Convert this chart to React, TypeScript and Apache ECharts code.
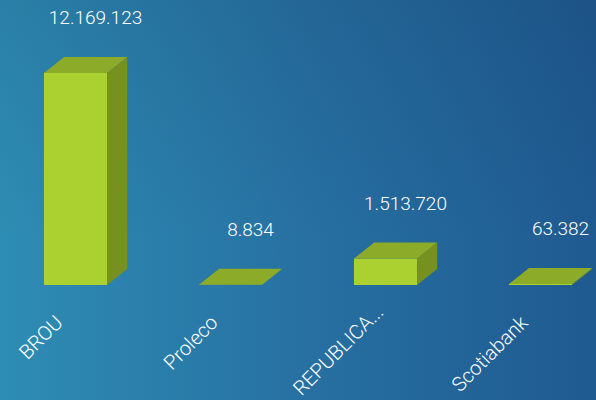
import React, { useEffect, useRef } from "react";
import * as echarts from "echarts";

const categories = ["BROU", "Proleco", "REPUBLICA...", "Scotiabank"];
const values = [12169123, 8834, 1513720, 63382];

const FRONT = "#aad12f";
const TOP = "#8cab28";
const SIDE = "#76911f";
const FONT = "Roboto, 'Noto Sans', sans-serif";

function fmt(v: number): string {
  return String(Math.round(v)).replace(/\B(?=(\d{3})+(?!\d))/g, ".");
}

export default function App() {
  const ref = useRef<HTMLDivElement>(null);
  useEffect(() => {
    if (!ref.current) return;
    const chart = echarts.init(ref.current, undefined, { renderer: "svg" });
    chart.setOption({
      animation: false,
      backgroundColor: new echarts.graphic.LinearGradient(0, 0, 1, 0, [
        { offset: 0, color: "#2e8db4" },
        { offset: 0.5, color: "#2771a2" },
        { offset: 1, color: "#1f5a90" },
      ]),
      graphic: [
        {
          type: "rect",
          z: -10,
          shape: { x: 0, y: 0, width: 596, height: 400 },
          style: {
            fill: new echarts.graphic.LinearGradient(0, 0, 0, 1, [
              { offset: 0, color: "rgba(10,30,70,0.12)" },
              { offset: 0.6, color: "rgba(10,30,70,0)" },
              { offset: 1, color: "rgba(10,30,70,0)" },
            ]),
          },
        },
      ],
      grid: {
        left: -18.5,
        right: -5.5,
        top: 41,
        bottom: 115,
        containLabel: false,
        outerBoundsMode: "none",
      },
      xAxis: {
        type: "category",
        data: categories.map((c) =>
          c.length > 10 ? { value: c, textStyle: { padding: [0, -15, 0, 0] } } : c
        ),
        axisLine: { show: false },
        axisTick: { show: false },
        axisLabel: {
          rotate: 45,
          margin: 34,
          color: "#ffffff",
          fontSize: 20,
          fontWeight: 300,
          fontFamily: FONT,
          interval: 0,
        },
      },
      yAxis: {
        type: "value",
        min: 0,
        max: 14000000,
        show: false,
        splitLine: { show: false },
      },
      series: [
        {
          type: "custom",
          data: values.map((v, i) => [i, v]),
          encode: { x: 0, y: 1 },
          renderItem: (params: any, api: any) => {
            const i = api.value(0);
            const v = api.value(1);
            const base = api.coord([i, 0]);
            const top = api.coord([i, v]);
            const bw = api.size([1, 0])[0];
            const x0 = base[0] - bw * 0.097;
            const x1 = x0 + bw * 0.407;
            const dx = bw * 0.13;
            const dy = 16;
            const yb = base[1];
            const yt = top[1];
            return {
              type: "group",
              children: [
                {
                  type: "polygon",
                  shape: { points: [[x0, yt], [x1, yt], [x1, yb], [x0, yb]] },
                  style: { fill: FRONT },
                },
                {
                  type: "polygon",
                  shape: { points: [[x1, yt], [x1 + dx, yt - dy], [x1 + dx, yb - dy], [x1, yb]] },
                  style: { fill: SIDE },
                },
                {
                  type: "polygon",
                  shape: { points: [[x0, yt], [x0 + dx, yt - dy], [x1 + dx, yt - dy], [x1, yt]] },
                  style: { fill: TOP },
                },
                {
                  type: "text",
                  x: (x0 + x1) / 2 + 20,
                  y: yt - 55,
                  style: {
                    text: fmt(v),
                    fill: "#ffffff",
                    font: `300 19px ${FONT}`,
                    align: "center",
                    verticalAlign: "middle",
                  },
                },
              ],
            };
          },
        },
      ],
    });
    return () => chart.dispose();
  }, []);
  return (
    <div
      ref={ref}
      style={{ position: "absolute", left: 0, top: 0, width: 596, height: 400 }}
    />
  );
}
